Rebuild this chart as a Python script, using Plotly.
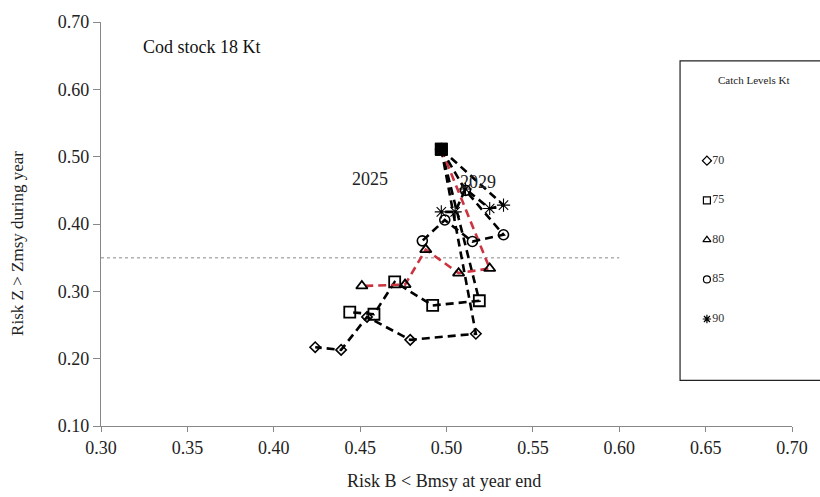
import plotly.graph_objects as go

# ---------------- data ----------------
catch_levels = ["70", "75", "80", "85", "90"]
catch_values = [70, 75, 80, 85, 90]

risk_b_70 = [0.497, 0.517, 0.479, 0.454, 0.439, 0.424]
risk_z_70 = [0.511, 0.237, 0.228, 0.262, 0.213, 0.217]

risk_b_75 = [0.497, 0.519, 0.492, 0.470, 0.458, 0.444]
risk_z_75 = [0.511, 0.286, 0.279, 0.314, 0.266, 0.269]

risk_b_80 = [0.497, 0.525, 0.507, 0.488, 0.476, 0.451]
risk_z_80 = [0.511, 0.334, 0.327, 0.362, 0.310, 0.308]

risk_b_85 = [0.497, 0.511, 0.533, 0.515, 0.499, 0.486]
risk_z_85 = [0.511, 0.450, 0.384, 0.374, 0.406, 0.375]

risk_b_90 = [0.497, 0.533, 0.525, 0.511, 0.505, 0.497]
risk_z_90 = [0.511, 0.428, 0.423, 0.452, 0.418, 0.418]

start_b = [0.497]
start_z = [0.511]

threshold_z = 0.35
threshold_b_range = [0.30, 0.60]

x_ticks = [0.30, 0.35, 0.40, 0.45, 0.50, 0.55, 0.60, 0.65, 0.70]
y_ticks = [0.10, 0.20, 0.30, 0.40, 0.50, 0.60, 0.70]

year_labels = ["2025", "2029"]
year_label_b = [0.456, 0.518]
year_label_z = [0.467, 0.462]

# ---------------- styling ----------------
FONT = "Liberation Serif, Times New Roman, serif"
BLACK = "#000000"
RED = "#cc3340"
DASH = "8px,5px"

series = [
    (risk_b_70, risk_z_70, "diamond-open", 8, BLACK, 1.6),
    (risk_b_75, risk_z_75, "square-open", 11, BLACK, 1.8),
    (risk_b_80, risk_z_80, "triangle-up-open", 10, RED, 1.8),
    (risk_b_85, risk_z_85, "circle-open", 10, BLACK, 1.6),
    (risk_b_90, risk_z_90, "asterisk-open", 11, BLACK, 1.1),
]

fig = go.Figure()

for bx, zy, sym, sz, lc, mw in series:
    fig.add_trace(go.Scatter(
        x=bx, y=zy, mode="lines+markers",
        line=dict(color=lc, width=2.6, dash=DASH),
        marker=dict(symbol=sym, size=sz, color=BLACK,
                    line=dict(color=BLACK, width=mw)),
        showlegend=False, hoverinfo="x+y",
    ))

fig.add_trace(go.Scatter(
    x=start_b, y=start_z, mode="markers",
    marker=dict(symbol="square", size=12, color=BLACK,
                line=dict(color=BLACK, width=1)),
    showlegend=False,
))

# legend panel drawn in its own small axes
legend_symbols = ["diamond-open", "square-open", "triangle-up-open", "circle-open", "asterisk-open"]
fig.add_trace(go.Scatter(
    x=[0] * len(catch_values), y=catch_values,
    mode="markers+text",
    text=catch_levels, textposition="middle right",
    textfont=dict(family=FONT, size=12, color="#333"),
    marker=dict(symbol=legend_symbols, size=7, color=BLACK,
                line=dict(color=BLACK, width=1.2)),
    xaxis="x2", yaxis="y2", showlegend=False, hoverinfo="skip",
))

# threshold dotted line
fig.add_shape(type="line", xref="x", yref="y",
              x0=threshold_b_range[0], x1=threshold_b_range[1],
              y0=threshold_z, y1=threshold_z,
              line=dict(color="#b0b0b0", width=1.5, dash="dot"), layer="below")

# legend box (extends past the right edge, as in the reference)
fig.add_shape(type="rect", xref="paper", yref="paper",
              x0=0.838, x1=1.06, y0=0.113, y1=0.904,
              line=dict(color="#222222", width=1.2), fillcolor="white", layer="below")

annotations = [
    dict(text="Cod stock 18 Kt", xref="paper", yref="paper", x=0.0585, y=0.937,
         xanchor="left", yanchor="middle", showarrow=False,
         font=dict(family=FONT, size=18, color="#111")),
    dict(text="Catch Levels Kt", xref="paper", yref="paper", x=0.945, y=0.857,
         xanchor="center", yanchor="middle", showarrow=False,
         font=dict(family=FONT, size=11, color="#222")),
    dict(text="Risk B < Bmsy at year end", xref="paper", yref="paper", x=0.497, y=-0.137,
         xanchor="center", yanchor="middle", showarrow=False,
         font=dict(family=FONT, size=18, color="#222")),
    dict(text="Risk Z > Zmsy during year", xref="paper", yref="paper", x=-0.120, y=0.451,
         xanchor="center", yanchor="middle", showarrow=False, textangle=-90,
         font=dict(family=FONT, size=17, color="#222")),
]
for t, bx, zy in zip(year_labels, year_label_b, year_label_z):
    annotations.append(dict(text=t, x=bx, y=zy, xref="x", yref="y", showarrow=False,
                            xanchor="center", yanchor="middle",
                            font=dict(family=FONT, size=18, color="#222")))

fig.update_layout(
    width=820, height=497,
    margin=dict(l=101, r=21, t=18, b=71),
    paper_bgcolor="white", plot_bgcolor="rgba(0,0,0,0)",
    font=dict(family=FONT, color="#222"),
    showlegend=False,
    annotations=annotations,
    xaxis=dict(range=[0.30, 0.70], tickvals=x_ticks, tickformat=".2f",
               showgrid=False, zeroline=False, showline=True, linecolor="#888888",
               linewidth=1.2, ticks="outside", ticklen=5, tickcolor="#888888",
               tickfont=dict(family=FONT, size=18, color="#222"), domain=[0, 1]),
    yaxis=dict(range=[0.10, 0.70], tickvals=y_ticks, tickformat=".2f",
               showgrid=False, zeroline=False, showline=True, linecolor="#888888",
               linewidth=1.2, ticks="outside", ticklen=7, tickcolor="#888888",
               tickfont=dict(family=FONT, size=18, color="#222")),
    xaxis2=dict(domain=[0.838, 1.0], range=[-0.24, 0.76], visible=False, anchor="y2"),
    yaxis2=dict(domain=[0.113, 0.904], range=[97.75, 57.375], visible=False, anchor="x2"),
)

fig.write_html("out.html")
